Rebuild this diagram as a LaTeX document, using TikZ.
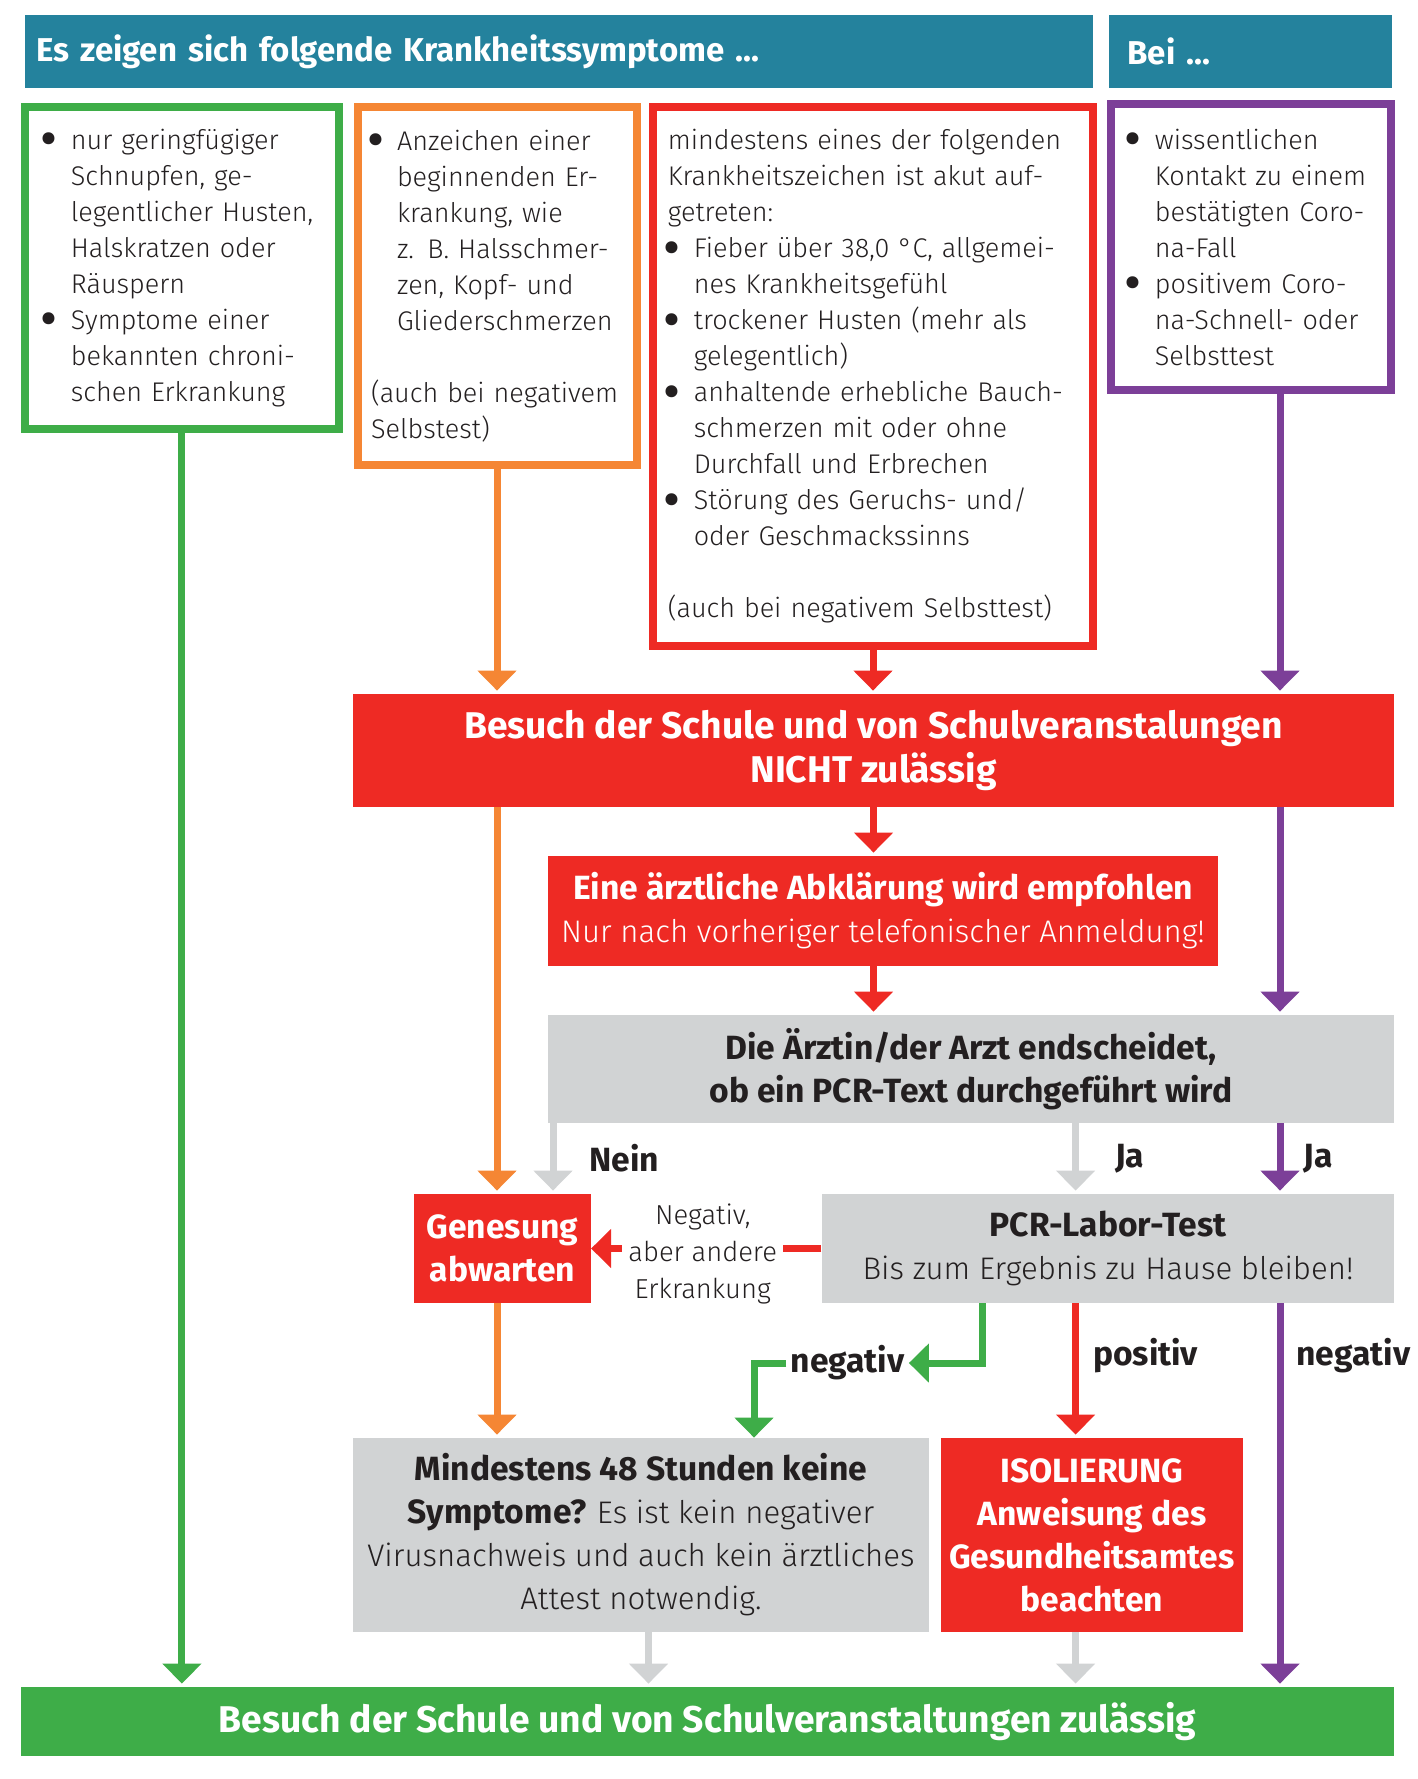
\documentclass[tikz,border=0pt]{standalone}
\usepackage{fontspec}
\IfFontExistsTF{Fira Sans Light}
	{\IfFontExistsTF{Fira Sans Bold}
		{\setmainfont{Fira Sans Light}[BoldFont={Fira Sans Bold}]}
		{\setmainfont{Fira Sans}}}
	{\setmainfont{Fira Sans}}
\usetikzlibrary{arrows.meta,positioning}

\definecolor{headblue}{RGB}{36,130,157}
\definecolor{okgreen}{RGB}{62,173,72}
\definecolor{warnorange}{RGB}{245,134,52}
\definecolor{stopred}{RGB}{238,42,36}
\definecolor{contactpurple}{RGB}{124,63,152}
\definecolor{boxgray}{RGB}{209,211,212}
\definecolor{txt}{RGB}{35,31,32}

\newcommand{\fsbody}{\fontsize{13.5}{18}\selectfont}
\newcommand{\fsmid}{\fontsize{15.6}{21.5}\selectfont}
\newcommand{\fsbig}{\fontsize{16.8}{21.5}\selectfont}
\newcommand{\fshuge}{\fontsize{18.6}{22}\selectfont}
\newcommand{\bdot}{\makebox[13pt][l]{\hspace{-1.5pt}\raisebox{-0.16em}{\scalebox{1.6}{\bfseries\textbullet}}}}
\newcommand{\bl}[1]{\mbox{\bdot#1}}
\newcommand{\cl}[1]{\mbox{\hspace{13pt}#1}}

\begin{document}
\begin{tikzpicture}[x=0.5pt,y=-0.5pt,
	head/.style={fill=headblue,text=white,font=\fontsize{16.5}{20}\selectfont\bfseries,minimum height=36.5pt,align=left},
	symbox/.style={draw,line width=4pt,font=\fsbody,text=txt,align=left,inner xsep=0pt},
	redbox/.style={fill=stopred,text=white,font=\fsbig\bfseries,align=center,inner sep=0pt},
	graybox/.style={fill=boxgray,text=txt,font=\fsbig\bfseries,align=center,inner sep=0pt},
	arr/.style={line width=3.5pt,-{Triangle[width=19pt,length=10pt]},shorten >=1.5pt},
	lbl/.style={text=txt,font=\fsbig\bfseries,inner sep=2pt}]

\useasboundingbox (0,0) rectangle (1418,1779);

% headers
\node[head,inner xsep=5.5pt,text width=522.8pt] (headS) at (558.8,51.5) {Es zeigen sich folgende Krankheitssymptome ...};
\node[head,inner xsep=9.5pt,text width=122.5pt] (headB) at (1250,51.5) {Bei ...};

% symptom boxes
\node[symbox,draw=okgreen,minimum width=156.9pt,minimum height=161pt,text width=137pt] (symG) at (181.9,268)
	{\bl{nur geringfügiger}\\ \cl{Schnupfen, ge-}\\ \cl{legentlicher Husten,}\\ \cl{Halskratzen oder}\\
	 \cl{Räuspern}\\ \bl{Symptome einer}\\ \cl{bekannten chroni-}\\ \cl{schen Erkrankung}};
\node[symbox,draw=warnorange,minimum width=139.5pt,minimum height=179pt,text width=126pt] (symO) at (497,286)
	{\bl{Anzeichen einer}\\ \cl{beginnenden Er-}\\ \cl{krankung, wie}\\ \cl{z. B. Halsschmer-}\\
	 \cl{zen, Kopf- und}\\ \cl{Gliederschmerzen}\\[18pt] \mbox{(auch bei negativem}\\ \mbox{Selbstest)}};
\node[symbox,draw=stopred,minimum width=219.6pt,minimum height=269.5pt,text width=205.2pt] (symR) at (873,376.5)
	{\mbox{mindestens eines der folgenden}\\ \mbox{Krankheitszeichen ist akut auf-}\\ \mbox{getreten:}\\
	 \bl{Fieber über 38,0 °C, allgemei-}\\ \cl{nes Krankheitsgefühl}\\
	 \bl{trockener Husten (mehr als}\\ \cl{gelegentlich)}\\
	 \bl{anhaltende erhebliche Bauch-}\\ \cl{schmerzen mit oder ohne}\\ \cl{Durchfall und Erbrechen}\\
	 \bl{Störung des Geruchs- und/}\\ \cl{oder Geschmackssinns}\\[18pt]
	 \mbox{(auch bei negativem Selbsttest)}};
\node[symbox,draw=contactpurple,minimum width=140pt,minimum height=143pt,text width=121.6pt] (symP) at (1250.5,247)
	{\bl{wissentlichen}\\ \cl{Kontakt zu einem}\\ \cl{bestätigten Coro-}\\ \cl{na-Fall}\\
	 \bl{positivem Coro-}\\ \cl{na-Schnell- oder}\\ \cl{Selbsttest}};

% flow
\node[redbox,font=\fshuge\bfseries,minimum width=520.8pt,minimum height=56.5pt] (nicht) at (873.5,750.5)
	{Besuch der Schule und von Schulveranstalungen\\NICHT zulässig};
\node[redbox,minimum width=335pt,minimum height=55pt] (abkl) at (883,911)
	{Eine ärztliche Abklärung wird empfohlen\\{\fsmid\mdseries Nur nach vorheriger telefonischer Anmeldung!}};
\node[graybox,minimum width=423.3pt,minimum height=54pt] (arzt) at (971,1069)
	{Die Ärztin/der Arzt endscheidet,\\ob ein PCR-Text durchgeführt wird};
\node[redbox,minimum width=88.2pt,minimum height=54.5pt] (genes) at (502.5,1248.5) {Genesung\\abwarten};
\node[graybox,minimum width=286.3pt,minimum height=54.5pt] (pcr) at (1108,1248.5)
	{PCR-Labor-Test\\{\fsmid\mdseries Bis zum Ergebnis zu Hause bleiben!}};
\node[graybox,minimum width=288.4pt,minimum height=97pt] (mind) at (641,1535)
	{Mindestens 48 Stunden keine\\Symptome? {\fsmid\mdseries Es ist kein negativer}\\
	 {\fsmid\mdseries Virusnachweis und auch kein ärztliches}\\{\fsmid\mdseries Attest notwendig.}};
\node[redbox,minimum width=150.9pt,minimum height=97pt] (isol) at (1092,1535)
	{ISOLIERUNG\\Anweisung des\\Gesundheitsamtes\\beachten};
\node[fill=okgreen,text=white,font=\fshuge\bfseries,minimum width=686.7pt,minimum height=34.5pt,inner sep=0pt] (okbar) at (707.6,1721.5)
	{Besuch der Schule und von Schulveranstaltungen zulässig};

% arrow columns
\coordinate (colP) at (1280,0);
\coordinate (colN) at (553,0);
\coordinate (colJ) at (1075.6,0);
\coordinate (colG) at (982,0);
\coordinate (colD) at (754,0);
\coordinate (colM) at (648.5,0);

\draw[arr,okgreen] (symG.south) -- (okbar.north -| symG.south);

\draw[arr,warnorange] (symO.south) -- (nicht.north -| symO.south);
\draw[arr,warnorange] (nicht.south -| symO.south) -- (genes.north -| symO.south);
\draw[arr,warnorange] (genes.south -| symO.south) -- (mind.north -| symO.south);

\draw[arr,stopred] (symR.south) -- (nicht.north -| symR.south);
\draw[arr,stopred] (nicht.south) -- (abkl.north -| nicht.south);
\draw[arr,stopred] (abkl.south -| nicht.south) -- (arzt.north -| nicht.south);

\draw[arr,contactpurple] (symP.south -| colP) -- (nicht.north -| colP);
\draw[arr,contactpurple] (nicht.south -| colP) -- (arzt.north -| colP);
\draw[arr,contactpurple] (arzt.south -| colP) -- (pcr.north -| colP)
	node[lbl,anchor=west,pos=0.5,xshift=8pt] (jaP) {Ja};
\draw[arr,contactpurple] (pcr.south -| colP) -- (okbar.north -| colP)
	node[lbl,anchor=west,pos=0.135,xshift=4.5pt] (negP) {negativ};

\draw[arr,boxgray] (arzt.south -| colN) -- (genes.north -| colN)
	node[lbl,anchor=west,pos=0.5,xshift=14.5pt] (nein) {Nein};
\draw[arr,boxgray] (arzt.south -| colJ) -- (pcr.north -| colJ)
	node[lbl,anchor=west,pos=0.5,xshift=16pt] (jaG) {Ja};

\draw[arr,stopred,shorten >=0pt] (pcr.west) -- (genes.east)
	node[pos=0.515,yshift=-2.5pt,fill=white,font=\fontsize{13.7}{18.5}\selectfont,text=txt,align=center,inner xsep=3pt] (negR) {Negativ,\\aber andere\\Erkrankung};

\draw[arr,stopred] (pcr.south -| colJ) -- (isol.north -| colJ)
	node[lbl,anchor=west,pos=0.39,xshift=5pt] (posR) {positiv};

\node[lbl] (negG) at (847.6,1363) {negativ};
\draw[arr,okgreen,shorten >=0pt] (pcr.south -| colG) |- (negG.east);
\draw[arr,okgreen,shorten >=0pt] (negG.west) -| (mind.north -| colD);

\draw[arr,boxgray] (mind.south -| colM) -- (okbar.north -| colM);
\draw[arr,boxgray] (isol.south -| colJ) -- (okbar.north -| colJ);

\end{tikzpicture}
\end{document}
